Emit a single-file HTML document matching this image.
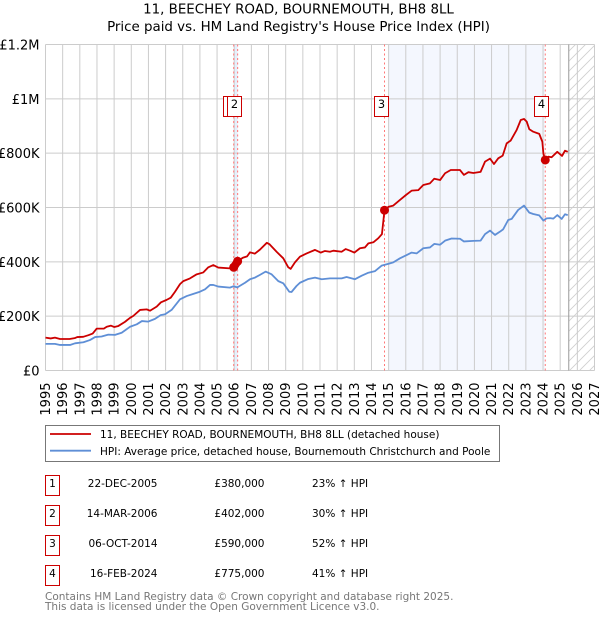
<!DOCTYPE html>
<html lang="en">
<head>
<meta charset="utf-8">
<title>11, BEECHEY ROAD, BOURNEMOUTH, BH8 8LL</title>
<style>
html,body{margin:0;padding:0;background:#fff;}
svg{display:block;font-family:"DejaVu Sans","Liberation Sans",sans-serif;}
text{fill:#000;}
.tick{font-size:13px;}
.tbl{font-size:10.5px;}
.foot{font-size:10.5px;fill:#777;}
.leg{font-size:10.5px;}
.ttl{font-size:13.4px;}
</style>
</head>
<body>
<svg id="chart" width="600" height="620" viewBox="0 0 600 620" xmlns="http://www.w3.org/2000/svg">
<defs>
<pattern id="hatch" patternUnits="userSpaceOnUse" width="10" height="10">
<path d="M-1,11 L11,-1 M-1,1 L1,-1 M9,11 L11,9" stroke="#d0d0d0" stroke-width="0.9" fill="none"/>
</pattern>
</defs>
<text class="ttl" x="298.5" y="13.5" text-anchor="middle">11, BEECHEY ROAD, BOURNEMOUTH, BH8 8LL</text>
<text class="ttl" x="298.5" y="31" text-anchor="middle">Price paid vs. HM Land Registry's House Price Index (HPI)</text>
<g id="plot"></g>
<g>
<rect x="45.5" y="425.5" width="454" height="36" fill="#fff" stroke="#777" stroke-width="1"/>
<line x1="50" x2="91" y1="434" y2="434" stroke="#cc0000" stroke-width="1.8"/>
<line x1="50" x2="91" y1="450.7" y2="450.7" stroke="#5f8fd6" stroke-width="1.8"/>
<text class="leg" x="100" y="438">11, BEECHEY ROAD, BOURNEMOUTH, BH8 8LL (detached house)</text>
<text class="leg" x="100" y="455">HPI: Average price, detached house, Bournemouth Christchurch and Poole</text>
</g>
<g>
<g>
<rect x="45.5" y="475.5" width="14" height="20" fill="#fff" stroke="#cc0000"/>
<text class="tbl" x="52.5" y="487" text-anchor="middle">1</text>
<text class="tbl" x="157.5" y="487" text-anchor="end">22-DEC-2005</text>
<text class="tbl" x="264.5" y="487" text-anchor="end">£380,000</text>
<text class="tbl" x="312" y="487">23% ↑ HPI</text>
</g>
<g>
<rect x="45.5" y="505.5" width="14" height="20" fill="#fff" stroke="#cc0000"/>
<text class="tbl" x="52.5" y="517" text-anchor="middle">2</text>
<text class="tbl" x="157.5" y="517" text-anchor="end">14-MAR-2006</text>
<text class="tbl" x="264.5" y="517" text-anchor="end">£402,000</text>
<text class="tbl" x="312" y="517">30% ↑ HPI</text>
</g>
<g>
<rect x="45.5" y="535.5" width="14" height="20" fill="#fff" stroke="#cc0000"/>
<text class="tbl" x="52.5" y="547" text-anchor="middle">3</text>
<text class="tbl" x="157.5" y="547" text-anchor="end">06-OCT-2014</text>
<text class="tbl" x="264.5" y="547" text-anchor="end">£590,000</text>
<text class="tbl" x="312" y="547">52% ↑ HPI</text>
</g>
<g>
<rect x="45.5" y="565.5" width="14" height="20" fill="#fff" stroke="#cc0000"/>
<text class="tbl" x="52.5" y="577" text-anchor="middle">4</text>
<text class="tbl" x="157.5" y="577" text-anchor="end">16-FEB-2024</text>
<text class="tbl" x="264.5" y="577" text-anchor="end">£775,000</text>
<text class="tbl" x="312" y="577">41% ↑ HPI</text>
</g>
</g>
<text class="foot" x="45" y="600">Contains HM Land Registry data © Crown copyright and database right 2025.</text>
<text class="foot" x="45" y="610">This data is licensed under the Open Government Licence v3.0.</text>
</svg>
<script>
const xTicks = [1995,1996,1997,1998,1999,2000,2001,2002,2003,2004,2005,2006,2007,2008,2009,2010,2011,2012,2013,2014,2015,2016,2017,2018,2019,2020,2021,2022,2023,2024,2025,2026,2027];
const yTicks = [0,200,400,600,800,1000,1200];
const yTickLabels = ['£0','£200K','£400K','£600K','£800K','£1M','£1.2M'];
const priceDates = [1995,1995.3,1995.55,1995.85,1996.4,1996.7,1996.85,1997.2,1997.5,1997.75,1997.98,1998.4,1998.57,1998.82,1999.01,1999.25,1999.63,1999.93,2000.12,2000.51,2000.9,2001.09,2001.48,2001.73,2002.06,2002.3,2002.55,2002.84,2003.03,2003.42,2003.81,2004.2,2004.49,2004.78,2005.07,2005.75,2005.97,2006.2,2006.5,2006.75,2006.92,2007.2,2007.5,2007.9,2008.05,2008.47,2008.86,2009.15,2009.29,2009.54,2009.83,2010.22,2010.71,2011.04,2011.29,2011.58,2011.78,2012.26,2012.5,2012.75,2013,2013.33,2013.62,2013.82,2014.11,2014.4,2014.61,2014.76,2015,2015.27,2015.66,2016.01,2016.34,2016.73,2017.02,2017.41,2017.66,2018,2018.29,2018.62,2019.16,2019.39,2019.65,2019.94,2020.36,2020.62,2020.91,2021.14,2021.39,2021.65,2021.88,2022.11,2022.46,2022.7,2022.89,2023.05,2023.2,2023.43,2023.78,2023.96,2024.02,2024.13,2024.31,2024.5,2024.83,2025.11,2025.28,2025.44];
const priceValues = [121,118,121,116,116,119,123,124,130,136,154,154,161,165,160,164,179,194,201,223,225,220,235,251,260,268,290,318,329,339,354,361,380,388,379,376,378,402,415,420,435,430,445,470,465,437,413,380,374,398,419,431,444,434,440,437,441,437,447,441,434,450,453,468,472,487,502,590,603,607,628,646,662,664,683,689,706,701,726,738,738,720,730,727,731,769,780,760,781,791,836,846,885,922,926,916,888,879,871,842,799,775,787,785,805,790,809,805];
const hpiDates = [1995,1995.55,1995.85,1996.43,1996.72,1997.21,1997.59,1997.89,1998.27,1998.66,1999.05,1999.44,1999.93,2000.32,2000.62,2000.99,2001.38,2001.71,2001.97,2002.35,2002.84,2003.23,2003.62,2004,2004.3,2004.59,2004.78,2005.07,2005.75,2005.95,2006.18,2006.63,2006.92,2007.21,2007.5,2007.83,2008.18,2008.57,2008.86,2009.21,2009.34,2009.63,2009.83,2010.32,2010.71,2011.1,2011.58,2012.26,2012.55,2013.04,2013.43,2013.82,2014.21,2014.59,2015,2015.27,2015.66,2016.05,2016.34,2016.63,2017.02,2017.41,2017.66,2018,2018.29,2018.67,2019.16,2019.39,2019.94,2020.36,2020.62,2020.91,2021.2,2021.49,2021.68,2021.97,2022.17,2022.55,2022.89,2023.2,2023.43,2023.78,2024.02,2024.21,2024.41,2024.6,2024.83,2025.09,2025.28,2025.44];
const hpiValues = [98,98,94,94,100,104,112,123,125,132,131,139,161,170,182,180,190,204,207,223,262,274,282,290,299,315,315,309,305,310,306,323,336,342,352,364,354,329,321,290,289,311,323,337,342,336,339,339,344,336,349,360,366,386,393,398,413,425,434,431,450,453,466,463,478,486,485,475,477,478,502,515,499,511,520,554,558,591,607,581,576,571,552,560,561,559,572,558,575,572];
const saleNumbers = ['1','2','3','4'];
const saleDates = [2005.97,2006.2,2014.76,2024.13];
const salePrices = [380,402,590,775];

const NS = 'http://www.w3.org/2000/svg';
const plot = document.getElementById('plot');
const xScale = function (year) { return 45.5 + (year - 1995) * (549 / 32); };
const yScale = function (k) { return 370.5 - k * (326 / 1200); };

function make(tag, attrs, parent) {
  const el = document.createElementNS(NS, tag);
  for (const key in attrs) { el.setAttribute(key, attrs[key]); }
  (parent || plot).appendChild(el);
  return el;
}
function linePath(dates, values) {
  return dates.map(function (d, i) {
    return (i ? 'L' : 'M') + xScale(d).toFixed(2) + ',' + yScale(values[i]).toFixed(2);
  }).join(' ');
}
const plotRight = xScale(2027);
const plotTop = yScale(1200);
const plotBottom = yScale(0);
const lastDataYear = 2025.5;

const shade1 = make('rect', {x: xScale(saleDates[0]), y: plotTop, width: xScale(saleDates[1]) - xScale(saleDates[0]), height: plotBottom - plotTop, fill: '#e6effb'});


const shade2 = make('rect', {x: xScale(2015), y: plotTop, width: xScale(saleDates[3]) - xScale(2015), height: plotBottom - plotTop, fill: '#f4f7fe'});


const hatch = make('rect', {x: xScale(lastDataYear), y: plotTop, width: plotRight - xScale(lastDataYear), height: plotBottom - plotTop, fill: 'url(#hatch)'});



xTicks.forEach(function (year) {
  const x = xScale(year);
  const grid = make('line', {x1: x, x2: x, y1: plotTop, y2: plotBottom, stroke: '#cccccc', 'stroke-width': 1});
  
  
  const label = make('text', {class: 'tick', transform: 'translate(' + (x + 4.5) + ',382.5) rotate(-90)', 'text-anchor': 'end'});
  label.textContent = String(year);
  
  
});
yTicks.forEach(function (v, i) {
  const y = yScale(v);
  const grid = make('line', {x1: 45.5, x2: plotRight, y1: y, y2: y, stroke: '#cccccc', 'stroke-width': 1});
  
  
  const label = make('text', {class: 'tick', x: 39.5, y: y + 5, 'text-anchor': 'end'});
  label.textContent = yTickLabels[i];
  
  
});

const endLine = make('line', {x1: xScale(lastDataYear), x2: xScale(lastDataYear), y1: plotTop, y2: plotBottom, stroke: '#999999', 'stroke-width': 1});



saleDates.forEach(function (d) {
  const x = xScale(d);
  const dash = make('line', {x1: x, x2: x, y1: plotTop, y2: plotBottom, stroke: '#ff7777', 'stroke-width': 1, 'stroke-dasharray': '2 2.5'});
  
  
});

const hpiLine = make('path', {d: linePath(hpiDates, hpiValues), fill: 'none', stroke: '#5f8fd6', 'stroke-width': 1.8, 'stroke-linejoin': 'round'});


const priceLine = make('path', {d: linePath(priceDates, priceValues), fill: 'none', stroke: '#cc0000', 'stroke-width': 1.8, 'stroke-linejoin': 'round'});



const saleBridge = make('line', {x1: xScale(saleDates[0]), y1: yScale(salePrices[0]), x2: xScale(saleDates[1]), y2: yScale(salePrices[1]), stroke: '#cc0000', 'stroke-width': 8});



saleDates.forEach(function (d, i) {
  const dot = make('circle', {cx: xScale(d), cy: yScale(salePrices[i]), r: 4.5, fill: '#cc0000'});
  
  
  const box = make('rect', {x: Math.round(xScale(d) - 3 - 7) + 0.5 - 1, y: 96.5, width: 14, height: 20, fill: '#fff', stroke: '#cc0000', 'stroke-width': 1});
  
  
  const num = make('text', {x: Math.round(xScale(d) - 3) - 1 + 0.5, y: 108, 'text-anchor': 'middle', 'font-size': 11.4});
  num.textContent = saleNumbers[i];
  
  
});
</script>
</body>
</html>
